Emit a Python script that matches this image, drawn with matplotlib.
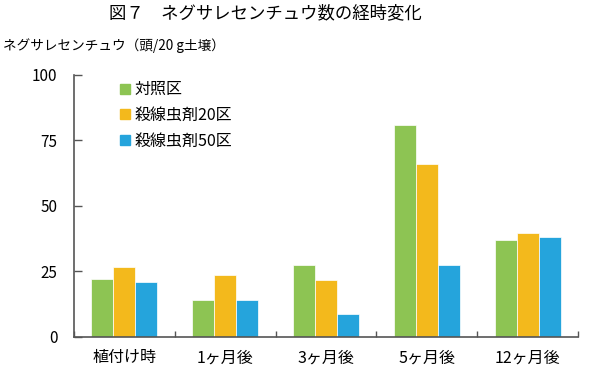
import matplotlib
matplotlib.use("Agg")
import matplotlib.pyplot as plt
import numpy as np
from matplotlib.lines import Line2D

plt.rcParams['font.family'] = ['Noto Sans CJK JP', 'DejaVu Sans']

categories = ["植付け時", "1ヶ月後", "3ヶ月後", "5ヶ月後", "12ヶ月後"]
series_names = ["対照区", "殺線虫剤20区", "殺線虫剤50区"]
control = [22.0, 13.9, 27.4, 80.8, 36.9]
nem20 = [26.6, 23.5, 21.6, 65.9, 39.5]
nem50 = [20.8, 13.9, 8.7, 27.5, 37.9]
colors = ["#8DC453", "#F3B91C", "#25A4DC"]
yticks = [0, 25, 50, 75, 100]

fig = plt.figure(figsize=(6, 3.7), dpi=100)
ax = fig.add_axes([74/600, 33.3/370, 504/600, 262/370])

x = np.arange(len(categories))
w = 0.218
for i, (vals, c, name) in enumerate(zip([control, nem20, nem50], colors, series_names)):
    ax.bar(x + (i - 1) * w, vals, width=w, color=c, edgecolor='white', linewidth=0.5, label=name)

ax.set_xlim(-0.5, len(categories) - 0.5)
ax.set_ylim(0, 100)
ax.set_yticks(yticks)
ax.set_xticks(x)
ax.set_xticklabels(categories, fontsize=11.5)
ax.set_xticks(np.arange(-0.5, len(categories)), minor=True)
ax.tick_params(axis='x', which='major', length=0, pad=9)
ax.tick_params(axis='x', which='minor', direction='in', length=4, color='#555555', width=1)
ax.tick_params(axis='y', direction='in', length=6, color='#555555', width=1, labelsize=11, pad=12)
for s in ['top', 'right']:
    ax.spines[s].set_visible(False)
for s in ['left', 'bottom']:
    ax.spines[s].set_color('#555555')
    ax.spines[s].set_linewidth(1.2)

handles = [Line2D([0], [0], marker='s', linestyle='none', markersize=7, markerfacecolor=c, markeredgecolor=c) for c in colors]
leg = ax.legend(handles, series_names, loc='upper left', bbox_to_anchor=(0.06, 1.03), frameon=False,
                fontsize=11.5, handlelength=0.8, handletextpad=0.2, labelspacing=0.55)

fig.text(265/600, 1 - 13/370, "図７　ネグサレセンチュウ数の経時変化", ha='center', va='center', fontsize=12.5)
fig.text(3/600, 1 - 46/370, "ネグサレセンチュウ（頭/20 g土壌）", ha='left', va='center', fontsize=9.8)

fig.savefig("out.png", dpi=100, facecolor='white')
